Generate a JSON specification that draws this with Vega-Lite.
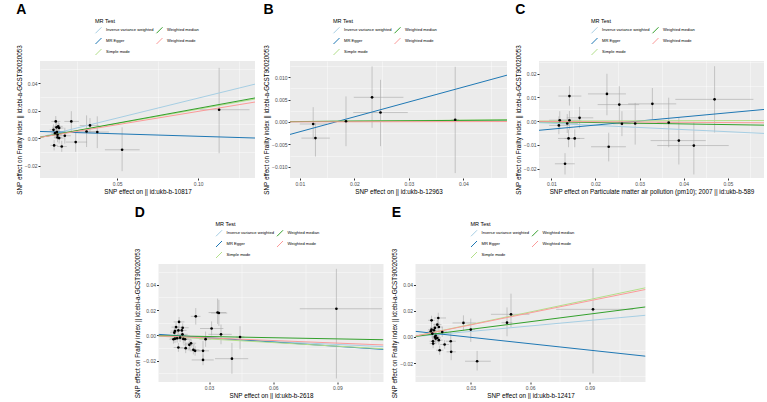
{
  "$schema": "https://vega.github.io/schema/vega-lite/v6.json",
  "padding": {"left": 16, "top": 3, "right": 4, "bottom": 0},
  "background": "white",
  "config": {
    "font": "Liberation Sans",
    "view": {"fill": "#EBEBEB", "stroke": null},
    "axis": {"domain": false, "gridColor": "#FFFFFF", "gridWidth": 0.9, "tickColor": "#333333", "tickSize": 2, "tickCount": 30, "labelFontSize": 5, "labelColor": "#4D4D4D", "titleFontSize": 6.3, "titleFontWeight": "normal", "titleColor": "#000000", "titlePadding": 2, "labelPadding": 1, "labelOverlap": false, "labelFlush": false, "labelBound": false, "labelFont": "Liberation Sans", "titleFont": "Liberation Sans"},
    "legend": {"labelFontSize": 4.1, "titleFontSize": 5.5, "titleFontWeight": "normal", "titleColor": "#000000", "labelColor": "#000000", "symbolType": "M-1,1L1,-1", "symbolStrokeWidth": 1, "symbolSize": 36, "columns": 2, "titleOrient": "top", "rowPadding": 0, "columnPadding": 0, "titlePadding": 2, "labelOffset": 4, "labelFont": "Liberation Sans", "titleFont": "Liberation Sans"},
    "title": {"fontSize": 14, "fontWeight": "bold", "anchor": "start", "frame": "bounds", "font": "Liberation Sans", "offset": 2, "color": "#000000"},
    "concat": {"spacing": 8}
  },
  "datasets": {
    "A_pts": [
      {"x": 0.1129, "y": 0.0206, "xlo": 0.101, "xhi": 0.1316, "ylo": -0.011, "yhi": 0.051},
      {"x": 0.0531, "y": -0.0085, "xlo": 0.0425, "xhi": 0.0639, "ylo": -0.024, "yhi": 0.0078},
      {"x": 0.0378, "y": 0.0044, "xlo": 0.030, "xhi": 0.045, "ylo": -0.0073, "yhi": 0.0158},
      {"x": 0.0312, "y": 0.0048, "xlo": 0.025, "xhi": 0.037, "ylo": -0.0065, "yhi": 0.0165},
      {"x": 0.0333, "y": 0.0092, "xlo": 0.027, "xhi": 0.039, "ylo": 0.004, "yhi": 0.0145},
      {"x": 0.0218, "y": 0.0121, "xlo": 0.0175, "xhi": 0.0265, "ylo": 0.0044, "yhi": 0.0195},
      {"x": 0.0245, "y": -0.0029, "xlo": 0.0185, "xhi": 0.0315, "ylo": -0.010, "yhi": 0.0045},
      {"x": 0.0178, "y": 0.0017, "xlo": 0.0145, "xhi": 0.0215, "ylo": -0.004, "yhi": 0.0075},
      {"x": 0.0159, "y": -0.0061, "xlo": 0.013, "xhi": 0.019, "ylo": -0.010, "yhi": -0.002},
      {"x": 0.0143, "y": 0.0, "xlo": 0.0115, "xhi": 0.017, "ylo": -0.004, "yhi": 0.004},
      {"x": 0.0133, "y": 0.0005, "xlo": 0.011, "xhi": 0.016, "ylo": -0.003, "yhi": 0.004},
      {"x": 0.0112, "y": -0.0053, "xlo": 0.009, "xhi": 0.0135, "ylo": -0.009, "yhi": -0.0015},
      {"x": 0.0122, "y": 0.0121, "xlo": 0.0095, "xhi": 0.015, "ylo": 0.008, "yhi": 0.016},
      {"x": 0.0108, "y": 0.006, "xlo": 0.0085, "xhi": 0.013, "ylo": 0.002, "yhi": 0.010},
      {"x": 0.0127, "y": 0.0078, "xlo": 0.010, "xhi": 0.0155, "ylo": 0.004, "yhi": 0.0115},
      {"x": 0.0137, "y": 0.0085, "xlo": 0.011, "xhi": 0.0165, "ylo": 0.005, "yhi": 0.012},
      {"x": 0.0143, "y": 0.0073, "xlo": 0.0115, "xhi": 0.017, "ylo": 0.0035, "yhi": 0.011},
      {"x": 0.0129, "y": 0.0044, "xlo": 0.0105, "xhi": 0.0155, "ylo": 0.0005, "yhi": 0.0083},
      {"x": 0.0118, "y": 0.0036, "xlo": 0.0095, "xhi": 0.014, "ylo": 0.0, "yhi": 0.0072},
      {"x": 0.0133, "y": 0.0024, "xlo": 0.011, "xhi": 0.016, "ylo": -0.001, "yhi": 0.006}
    ],
    "A_lines": [
      {"method": "Inverse variance weighted", "x": 0.0025, "y": 0.000725},
      {"method": "Inverse variance weighted", "x": 0.135, "y": 0.0392},
      {"method": "MR Egger", "x": 0.0025, "y": 0.00481},
      {"method": "MR Egger", "x": 0.135, "y": 0.00004},
      {"method": "Simple mode", "x": 0.0025, "y": 0.000525},
      {"method": "Simple mode", "x": 0.135, "y": 0.02835},
      {"method": "Weighted median", "x": 0.0025, "y": 0.00054},
      {"method": "Weighted median", "x": 0.135, "y": 0.02916},
      {"method": "Weighted mode", "x": 0.0025, "y": 0.000485},
      {"method": "Weighted mode", "x": 0.135, "y": 0.02619}
    ],
    "B_pts": [
      {"x": 0.01245, "y": -0.00045, "xlo": 0.0100, "xhi": 0.0150, "ylo": -0.0039, "yhi": 0.0033},
      {"x": 0.01287, "y": -0.0036, "xlo": 0.0103, "xhi": 0.0155, "ylo": -0.0077, "yhi": -0.0002},
      {"x": 0.01847, "y": 0.00015, "xlo": 0.0155, "xhi": 0.0215, "ylo": -0.0054, "yhi": 0.0057},
      {"x": 0.02325, "y": 0.0055, "xlo": 0.0199, "xhi": 0.0290, "ylo": -0.0013, "yhi": 0.0124},
      {"x": 0.0248, "y": 0.0021, "xlo": 0.0198, "xhi": 0.0298, "ylo": -0.0054, "yhi": 0.0094},
      {"x": 0.0385, "y": 0.0005, "xlo": 0.0378, "xhi": 0.0392, "ylo": -0.0114, "yhi": 0.0123}
    ],
    "B_lines": [
      {"method": "Inverse variance weighted", "x": 0.0082, "y": 0.0000656},
      {"method": "Inverse variance weighted", "x": 0.048, "y": 0.000384},
      {"method": "MR Egger", "x": 0.0082, "y": -0.00278},
      {"method": "MR Egger", "x": 0.048, "y": 0.01044},
      {"method": "Simple mode", "x": 0.0082, "y": 0.000082},
      {"method": "Simple mode", "x": 0.048, "y": 0.00048},
      {"method": "Weighted median", "x": 0.0082, "y": 0.000074},
      {"method": "Weighted median", "x": 0.048, "y": 0.000432},
      {"method": "Weighted mode", "x": 0.0082, "y": 0.0000164},
      {"method": "Weighted mode", "x": 0.048, "y": 0.000096}
    ],
    "C_pts": [
      {"x": 0.0119, "y": 0.0004, "xlo": 0.0095, "xhi": 0.0145, "ylo": -0.0034, "yhi": 0.0042},
      {"x": 0.0117, "y": -0.0018, "xlo": 0.0095, "xhi": 0.014, "ylo": -0.0055, "yhi": 0.002},
      {"x": 0.0136, "y": -0.001, "xlo": 0.011, "xhi": 0.016, "ylo": -0.005, "yhi": 0.003},
      {"x": 0.0141, "y": 0.0106, "xlo": 0.0116, "xhi": 0.0168, "ylo": 0.0066, "yhi": 0.0148},
      {"x": 0.0141, "y": 0.0004, "xlo": 0.0115, "xhi": 0.0168, "ylo": -0.0035, "yhi": 0.0043},
      {"x": 0.0139, "y": -0.0073, "xlo": 0.0115, "xhi": 0.0165, "ylo": -0.011, "yhi": -0.0035},
      {"x": 0.0153, "y": -0.0073, "xlo": 0.0130, "xhi": 0.0175, "ylo": -0.011, "yhi": -0.0035},
      {"x": 0.0164, "y": 0.0014, "xlo": 0.0135, "xhi": 0.0195, "ylo": -0.003, "yhi": 0.006},
      {"x": 0.0131, "y": -0.018, "xlo": 0.0108, "xhi": 0.0153, "ylo": -0.0225, "yhi": -0.0135},
      {"x": 0.0226, "y": 0.0115, "xlo": 0.0183, "xhi": 0.0269, "ylo": 0.0025, "yhi": 0.0200},
      {"x": 0.0230, "y": -0.0108, "xlo": 0.019, "xhi": 0.0269, "ylo": -0.017, "yhi": -0.0049},
      {"x": 0.0254, "y": 0.0070, "xlo": 0.0205, "xhi": 0.0299, "ylo": -0.0007, "yhi": 0.0148},
      {"x": 0.0260, "y": -0.0011, "xlo": 0.024, "xhi": 0.028, "ylo": -0.0063, "yhi": 0.0042},
      {"x": 0.0290, "y": -0.001, "xlo": 0.0250, "xhi": 0.0329, "ylo": -0.0099, "yhi": 0.0077},
      {"x": 0.0329, "y": 0.0073, "xlo": 0.0274, "xhi": 0.0383, "ylo": 0.0007, "yhi": 0.014},
      {"x": 0.0366, "y": -0.0006, "xlo": 0.034, "xhi": 0.039, "ylo": -0.011, "yhi": 0.0099},
      {"x": 0.0389, "y": -0.0082, "xlo": 0.0325, "xhi": 0.045, "ylo": -0.0183, "yhi": 0.0017},
      {"x": 0.0423, "y": -0.0103, "xlo": 0.0340, "xhi": 0.0502, "ylo": -0.0225, "yhi": -0.0003},
      {"x": 0.0470, "y": 0.0092, "xlo": 0.0381, "xhi": 0.0558, "ylo": -0.0048, "yhi": 0.0232}
    ],
    "C_lines": [
      {"method": "Inverse variance weighted", "x": 0.0072, "y": -0.00064},
      {"method": "Inverse variance weighted", "x": 0.0582, "y": -0.00518},
      {"method": "MR Egger", "x": 0.0072, "y": -0.00386},
      {"method": "MR Egger", "x": 0.0582, "y": 0.00494},
      {"method": "Simple mode", "x": 0.0072, "y": 0.000036},
      {"method": "Simple mode", "x": 0.0582, "y": 0.00029},
      {"method": "Weighted median", "x": 0.0072, "y": -0.00021},
      {"method": "Weighted median", "x": 0.0582, "y": -0.00169},
      {"method": "Weighted mode", "x": 0.0072, "y": -0.0000864},
      {"method": "Weighted mode", "x": 0.0582, "y": -0.000698}
    ],
    "D_pts": [
      {"x": 0.0895, "y": 0.021, "xlo": 0.0724, "xhi": 0.1108, "ylo": -0.034, "yhi": 0.0525},
      {"x": 0.0407, "y": -0.0184, "xlo": 0.0328, "xhi": 0.0483, "ylo": -0.0303, "yhi": -0.0060},
      {"x": 0.0445, "y": -0.0013, "xlo": 0.0425, "xhi": 0.0465, "ylo": -0.0109, "yhi": 0.0072},
      {"x": 0.0356, "y": 0.0008, "xlo": 0.0297, "xhi": 0.0406, "ylo": -0.007, "yhi": 0.0085},
      {"x": 0.0340, "y": 0.018, "xlo": 0.0298, "xhi": 0.0380, "ylo": 0.009, "yhi": 0.029},
      {"x": 0.0346, "y": 0.0176, "xlo": 0.031, "xhi": 0.0385, "ylo": 0.0075, "yhi": 0.028},
      {"x": 0.0312, "y": 0.0054, "xlo": 0.0258, "xhi": 0.0367, "ylo": 0.0, "yhi": 0.011},
      {"x": 0.0238, "y": 0.015, "xlo": 0.0215, "xhi": 0.026, "ylo": 0.0085, "yhi": 0.0215},
      {"x": 0.0284, "y": -0.003, "xlo": 0.0255, "xhi": 0.031, "ylo": -0.009, "yhi": 0.003},
      {"x": 0.0272, "y": -0.0122, "xlo": 0.0245, "xhi": 0.030, "ylo": -0.0176, "yhi": -0.0044},
      {"x": 0.0272, "y": -0.0194, "xlo": 0.0219, "xhi": 0.0322, "ylo": -0.0235, "yhi": -0.015},
      {"x": 0.0235, "y": -0.0122, "xlo": 0.021, "xhi": 0.026, "ylo": -0.016, "yhi": -0.0085},
      {"x": 0.0227, "y": -0.0114, "xlo": 0.020, "xhi": 0.0255, "ylo": -0.015, "yhi": -0.008},
      {"x": 0.0216, "y": -0.0062, "xlo": 0.019, "xhi": 0.024, "ylo": -0.0095, "yhi": -0.003},
      {"x": 0.0208, "y": -0.0075, "xlo": 0.018, "xhi": 0.0235, "ylo": -0.011, "yhi": -0.004},
      {"x": 0.0191, "y": -0.0101, "xlo": 0.0165, "xhi": 0.0215, "ylo": -0.014, "yhi": -0.006},
      {"x": 0.0157, "y": -0.0096, "xlo": 0.0135, "xhi": 0.018, "ylo": -0.013, "yhi": -0.006},
      {"x": 0.0188, "y": -0.0031, "xlo": 0.016, "xhi": 0.0215, "ylo": -0.0065, "yhi": 0.0005},
      {"x": 0.0180, "y": -0.0028, "xlo": 0.0155, "xhi": 0.0205, "ylo": -0.0065, "yhi": 0.001},
      {"x": 0.0176, "y": 0.0008, "xlo": 0.015, "xhi": 0.020, "ylo": -0.0025, "yhi": 0.004},
      {"x": 0.0177, "y": 0.006, "xlo": 0.015, "xhi": 0.0205, "ylo": 0.0025, "yhi": 0.0095},
      {"x": 0.0173, "y": 0.0039, "xlo": 0.015, "xhi": 0.0195, "ylo": 0.0005, "yhi": 0.0073},
      {"x": 0.0157, "y": 0.0039, "xlo": 0.0135, "xhi": 0.018, "ylo": 0.0005, "yhi": 0.0073},
      {"x": 0.0160, "y": 0.0106, "xlo": 0.0135, "xhi": 0.0185, "ylo": 0.0065, "yhi": 0.0145},
      {"x": 0.0141, "y": 0.0034, "xlo": 0.012, "xhi": 0.016, "ylo": 0.0, "yhi": 0.0068},
      {"x": 0.0138, "y": 0.0021, "xlo": 0.0118, "xhi": 0.0158, "ylo": -0.0013, "yhi": 0.0055},
      {"x": 0.0146, "y": 0.0065, "xlo": 0.0125, "xhi": 0.0167, "ylo": 0.003, "yhi": 0.010},
      {"x": 0.0134, "y": -0.0031, "xlo": 0.0115, "xhi": 0.0155, "ylo": -0.0065, "yhi": 0.0003},
      {"x": 0.0141, "y": -0.0026, "xlo": 0.012, "xhi": 0.0162, "ylo": -0.006, "yhi": 0.0008},
      {"x": 0.0151, "y": -0.0023, "xlo": 0.013, "xhi": 0.0172, "ylo": -0.0057, "yhi": 0.0011},
      {"x": 0.0165, "y": -0.0018, "xlo": 0.0142, "xhi": 0.0188, "ylo": -0.0052, "yhi": 0.0016}
    ],
    "D_lines": [
      {"method": "Inverse variance weighted", "x": 0.0064, "y": -0.000512},
      {"method": "Inverse variance weighted", "x": 0.1115, "y": -0.00892},
      {"method": "MR Egger", "x": 0.0064, "y": 0.000777},
      {"method": "MR Egger", "x": 0.1115, "y": -0.0111},
      {"method": "Simple mode", "x": 0.0064, "y": -0.000608},
      {"method": "Simple mode", "x": 0.1115, "y": -0.0106},
      {"method": "Weighted median", "x": 0.0064, "y": -0.000198},
      {"method": "Weighted median", "x": 0.1115, "y": -0.00346},
      {"method": "Weighted mode", "x": 0.0064, "y": -0.000435},
      {"method": "Weighted mode", "x": 0.1115, "y": -0.00758}
    ],
    "E_pts": [
      {"x": 0.0917, "y": 0.0211, "xlo": 0.0731, "xhi": 0.112, "ylo": -0.028, "yhi": 0.0526},
      {"x": 0.0503, "y": 0.0173, "xlo": 0.0402, "xhi": 0.0596, "ylo": 0.0076, "yhi": 0.0331},
      {"x": 0.0483, "y": 0.0109, "xlo": 0.0455, "xhi": 0.051, "ylo": 0.0005, "yhi": 0.0226},
      {"x": 0.0332, "y": -0.0186, "xlo": 0.0271, "xhi": 0.0401, "ylo": -0.0257, "yhi": -0.0107},
      {"x": 0.0300, "y": 0.0056, "xlo": 0.0278, "xhi": 0.0322, "ylo": -0.0038, "yhi": 0.014},
      {"x": 0.0263, "y": 0.0107, "xlo": 0.0208, "xhi": 0.0326, "ylo": 0.0049, "yhi": 0.0165},
      {"x": 0.0199, "y": -0.0033, "xlo": 0.0175, "xhi": 0.0225, "ylo": -0.010, "yhi": 0.0038},
      {"x": 0.0201, "y": -0.0114, "xlo": 0.0178, "xhi": 0.0225, "ylo": -0.0178, "yhi": -0.005},
      {"x": 0.0168, "y": -0.0058, "xlo": 0.0145, "xhi": 0.019, "ylo": -0.009, "yhi": -0.0025},
      {"x": 0.0156, "y": 0.0038, "xlo": 0.0135, "xhi": 0.018, "ylo": 0.0, "yhi": 0.0075},
      {"x": 0.0136, "y": 0.0145, "xlo": 0.0115, "xhi": 0.0175, "ylo": 0.0105, "yhi": 0.0185},
      {"x": 0.0139, "y": 0.0076, "xlo": 0.0118, "xhi": 0.016, "ylo": 0.004, "yhi": 0.0112},
      {"x": 0.0131, "y": 0.0094, "xlo": 0.011, "xhi": 0.0152, "ylo": 0.0058, "yhi": 0.013},
      {"x": 0.0119, "y": 0.0069, "xlo": 0.010, "xhi": 0.0138, "ylo": 0.0035, "yhi": 0.0103},
      {"x": 0.0114, "y": 0.0051, "xlo": 0.0095, "xhi": 0.0133, "ylo": 0.0017, "yhi": 0.0085},
      {"x": 0.0102, "y": 0.0127, "xlo": 0.0085, "xhi": 0.012, "ylo": 0.0092, "yhi": 0.0162},
      {"x": 0.0102, "y": 0.0056, "xlo": 0.0085, "xhi": 0.012, "ylo": 0.0022, "yhi": 0.009},
      {"x": 0.0098, "y": 0.0043, "xlo": 0.0082, "xhi": 0.0115, "ylo": 0.001, "yhi": 0.0076},
      {"x": 0.0106, "y": 0.0025, "xlo": 0.009, "xhi": 0.0123, "ylo": -0.001, "yhi": 0.006},
      {"x": 0.0123, "y": 0.0008, "xlo": 0.0105, "xhi": 0.0142, "ylo": -0.0027, "yhi": 0.0043},
      {"x": 0.0131, "y": -0.0008, "xlo": 0.0112, "xhi": 0.015, "ylo": -0.0043, "yhi": 0.0027},
      {"x": 0.0119, "y": 0.0, "xlo": 0.0101, "xhi": 0.0137, "ylo": -0.0035, "yhi": 0.0035},
      {"x": 0.0139, "y": -0.0025, "xlo": 0.012, "xhi": 0.0158, "ylo": -0.006, "yhi": 0.001},
      {"x": 0.0109, "y": -0.0033, "xlo": 0.0092, "xhi": 0.0126, "ylo": -0.0068, "yhi": 0.0002},
      {"x": 0.0110, "y": -0.0051, "xlo": 0.0093, "xhi": 0.0127, "ylo": -0.0086, "yhi": -0.0016},
      {"x": 0.0143, "y": -0.0102, "xlo": 0.0125, "xhi": 0.0162, "ylo": -0.0137, "yhi": -0.0067},
      {"x": 0.0123, "y": -0.0013, "xlo": 0.0105, "xhi": 0.0141, "ylo": -0.0048, "yhi": 0.0022}
    ],
    "E_lines": [
      {"method": "Inverse variance weighted", "x": 0.0021, "y": 0.000294},
      {"method": "Inverse variance weighted", "x": 0.1182, "y": 0.01655},
      {"method": "MR Egger", "x": 0.0021, "y": 0.00426},
      {"method": "MR Egger", "x": 0.1182, "y": -0.01475},
      {"method": "Simple mode", "x": 0.0021, "y": 0.000668},
      {"method": "Simple mode", "x": 0.1182, "y": 0.03759},
      {"method": "Weighted median", "x": 0.0021, "y": 0.000407},
      {"method": "Weighted median", "x": 0.1182, "y": 0.02293},
      {"method": "Weighted mode", "x": 0.0021, "y": 0.000645},
      {"method": "Weighted mode", "x": 0.1182, "y": 0.03629}
    ]
  },
  "vconcat": [
    {
      "hconcat": [
        {
          "title": "A",
          "width": 215, "height": 117,
          "resolve": {"scale": {"x": "independent", "y": "independent", "color": "independent"}},
          "layer": [
            {"data": {"name": "A_pts"}, "mark": {"type": "point", "opacity": 0},
             "encoding": {
               "x": {"field": "x", "type": "quantitative", "scale": {"domain": [0.0025, 0.135], "nice": false, "zero": false}, "axis": {"orient": "top", "values": [0.025, 0.075, 0.125], "tickCount": 30, "grid": true, "gridWidth": 0.4, "labels": false, "ticks": false, "domain": false, "title": null}},
               "y": {"field": "y", "type": "quantitative", "scale": {"domain": [-0.029, 0.056], "nice": false, "zero": false}, "axis": {"orient": "right", "values": [-0.01, 0.01, 0.03, 0.05], "tickCount": 30, "grid": true, "gridWidth": 0.4, "labels": false, "ticks": false, "domain": false, "title": null}}}},
            {"layer": [
              {"data": {"name": "A_pts"}, "mark": {"type": "rule", "color": "#A8A8A8", "strokeWidth": 0.6, "clip": true},
               "encoding": {
                 "x": {"field": "xlo", "type": "quantitative", "scale": {"domain": [0.0025, 0.135], "nice": false, "zero": false}, "axis": {"values": [0.05, 0.1], "tickCount": 30, "format": ".2f"}, "title": "SNP effect on  || id:ukb-b-10817"},
                 "x2": {"field": "xhi"},
                 "y": {"field": "y", "type": "quantitative", "scale": {"domain": [-0.029, 0.056], "nice": false, "zero": false}, "axis": {"values": [-0.02, 0, 0.02, 0.04], "tickCount": 30, "format": ".2f"}, "title": "SNP effect on Frailty index || id:ebi-a-GCST90020053"}}},
              {"data": {"name": "A_pts"}, "mark": {"type": "rule", "color": "#A8A8A8", "strokeWidth": 0.6, "clip": true},
               "encoding": {
                 "x": {"field": "x", "type": "quantitative", "scale": {"domain": [0.0025, 0.135], "nice": false, "zero": false}, "title": "SNP effect on  || id:ukb-b-10817"},
                 "y": {"field": "ylo", "type": "quantitative", "scale": {"domain": [-0.029, 0.056], "nice": false, "zero": false}, "title": "SNP effect on Frailty index || id:ebi-a-GCST90020053"},
                 "y2": {"field": "yhi"}}},
              {"data": {"name": "A_lines"}, "mark": {"type": "line", "strokeWidth": 1, "clip": true},
               "encoding": {
                 "x": {"field": "x", "type": "quantitative", "scale": {"domain": [0.0025, 0.135], "nice": false, "zero": false}, "title": "SNP effect on  || id:ukb-b-10817"},
                 "y": {"field": "y", "type": "quantitative", "scale": {"domain": [-0.029, 0.056], "nice": false, "zero": false}, "title": "SNP effect on Frailty index || id:ebi-a-GCST90020053"},
                 "color": {"field": "method", "type": "nominal", "scale": {"domain": ["Inverse variance weighted", "MR Egger", "Simple mode", "Weighted median", "Weighted mode"], "range": ["#A6CEE3", "#1F78B4", "#B2DF8A", "#33A02C", "#FB9A99"]}, "legend": {"title": "MR Test", "orient": "none", "legendX": 55, "legendY": -42}}}},
              {"data": {"name": "A_pts"}, "mark": {"type": "point", "filled": true, "color": "#000000", "size": 7, "opacity": 1, "clip": true},
               "encoding": {
                 "x": {"field": "x", "type": "quantitative", "scale": {"domain": [0.0025, 0.135], "nice": false, "zero": false}, "title": "SNP effect on  || id:ukb-b-10817"},
                 "y": {"field": "y", "type": "quantitative", "scale": {"domain": [-0.029, 0.056], "nice": false, "zero": false}, "title": "SNP effect on Frailty index || id:ebi-a-GCST90020053"}}}
            ]}
          ]
        },
        {
          "title": "B",
          "width": 217, "height": 117,
          "resolve": {"scale": {"x": "independent", "y": "independent", "color": "independent"}},
          "layer": [
            {"data": {"name": "B_pts"}, "mark": {"type": "point", "opacity": 0},
             "encoding": {
               "x": {"field": "x", "type": "quantitative", "scale": {"domain": [0.0082, 0.048], "nice": false, "zero": false}, "axis": {"orient": "top", "values": [0.015, 0.025, 0.035, 0.045], "tickCount": 30, "grid": true, "gridWidth": 0.4, "labels": false, "ticks": false, "domain": false, "title": null}},
               "y": {"field": "y", "type": "quantitative", "scale": {"domain": [-0.0125, 0.0136], "nice": false, "zero": false}, "axis": {"orient": "right", "values": [-0.0075, -0.0025, 0.0025, 0.0075, 0.0125], "tickCount": 30, "grid": true, "gridWidth": 0.4, "labels": false, "ticks": false, "domain": false, "title": null}}}},
            {"layer": [
              {"data": {"name": "B_pts"}, "mark": {"type": "rule", "color": "#A8A8A8", "strokeWidth": 0.6, "clip": true},
               "encoding": {
                 "x": {"field": "xlo", "type": "quantitative", "scale": {"domain": [0.0082, 0.048], "nice": false, "zero": false}, "axis": {"values": [0.01, 0.02, 0.03, 0.04], "tickCount": 30, "format": ".2f"}, "title": "SNP effect on  || id:ukb-b-12963"},
                 "x2": {"field": "xhi"},
                 "y": {"field": "y", "type": "quantitative", "scale": {"domain": [-0.0125, 0.0136], "nice": false, "zero": false}, "axis": {"values": [-0.01, -0.005, 0, 0.005, 0.01], "tickCount": 30, "format": ".3f"}, "title": "SNP effect on Frailty index || id:ebi-a-GCST90020053"}}},
              {"data": {"name": "B_pts"}, "mark": {"type": "rule", "color": "#A8A8A8", "strokeWidth": 0.6, "clip": true},
               "encoding": {
                 "x": {"field": "x", "type": "quantitative", "scale": {"domain": [0.0082, 0.048], "nice": false, "zero": false}, "title": "SNP effect on  || id:ukb-b-12963"},
                 "y": {"field": "ylo", "type": "quantitative", "scale": {"domain": [-0.0125, 0.0136], "nice": false, "zero": false}, "title": "SNP effect on Frailty index || id:ebi-a-GCST90020053"},
                 "y2": {"field": "yhi"}}},
              {"data": {"name": "B_lines"}, "mark": {"type": "line", "strokeWidth": 1, "clip": true},
               "encoding": {
                 "x": {"field": "x", "type": "quantitative", "scale": {"domain": [0.0082, 0.048], "nice": false, "zero": false}, "title": "SNP effect on  || id:ukb-b-12963"},
                 "y": {"field": "y", "type": "quantitative", "scale": {"domain": [-0.0125, 0.0136], "nice": false, "zero": false}, "title": "SNP effect on Frailty index || id:ebi-a-GCST90020053"},
                 "color": {"field": "method", "type": "nominal", "scale": {"domain": ["Inverse variance weighted", "MR Egger", "Simple mode", "Weighted median", "Weighted mode"], "range": ["#A6CEE3", "#1F78B4", "#B2DF8A", "#33A02C", "#FB9A99"]}, "legend": {"title": "MR Test", "orient": "none", "legendX": 43, "legendY": -42}}}},
              {"data": {"name": "B_pts"}, "mark": {"type": "point", "filled": true, "color": "#000000", "size": 7, "opacity": 1, "clip": true},
               "encoding": {
                 "x": {"field": "x", "type": "quantitative", "scale": {"domain": [0.0082, 0.048], "nice": false, "zero": false}, "title": "SNP effect on  || id:ukb-b-12963"},
                 "y": {"field": "y", "type": "quantitative", "scale": {"domain": [-0.0125, 0.0136], "nice": false, "zero": false}, "title": "SNP effect on Frailty index || id:ebi-a-GCST90020053"}}}
            ]}
          ]
        },
        {
          "title": "C",
          "width": 225, "height": 117,
          "resolve": {"scale": {"x": "independent", "y": "independent", "color": "independent"}},
          "layer": [
            {"data": {"name": "C_pts"}, "mark": {"type": "point", "opacity": 0},
             "encoding": {
               "x": {"field": "x", "type": "quantitative", "scale": {"domain": [0.0072, 0.0582], "nice": false, "zero": false}, "axis": {"orient": "top", "values": [0.015, 0.025, 0.035, 0.045, 0.055], "tickCount": 30, "grid": true, "gridWidth": 0.4, "labels": false, "ticks": false, "domain": false, "title": null}},
               "y": {"field": "y", "type": "quantitative", "scale": {"domain": [-0.024, 0.0254], "nice": false, "zero": false}, "axis": {"orient": "right", "values": [-0.015, -0.005, 0.005, 0.015, 0.025], "tickCount": 30, "grid": true, "gridWidth": 0.4, "labels": false, "ticks": false, "domain": false, "title": null}}}},
            {"layer": [
              {"data": {"name": "C_pts"}, "mark": {"type": "rule", "color": "#A8A8A8", "strokeWidth": 0.6, "clip": true},
               "encoding": {
                 "x": {"field": "xlo", "type": "quantitative", "scale": {"domain": [0.0072, 0.0582], "nice": false, "zero": false}, "axis": {"values": [0.01, 0.02, 0.03, 0.04, 0.05], "tickCount": 30, "format": ".2f"}, "title": "SNP effect on Particulate matter air pollution (pm10); 2007 || id:ukb-b-589"},
                 "x2": {"field": "xhi"},
                 "y": {"field": "y", "type": "quantitative", "scale": {"domain": [-0.024, 0.0254], "nice": false, "zero": false}, "axis": {"values": [-0.02, -0.01, 0, 0.01, 0.02], "tickCount": 30, "format": ".2f"}, "title": "SNP effect on Frailty index || id:ebi-a-GCST90020053"}}},
              {"data": {"name": "C_pts"}, "mark": {"type": "rule", "color": "#A8A8A8", "strokeWidth": 0.6, "clip": true},
               "encoding": {
                 "x": {"field": "x", "type": "quantitative", "scale": {"domain": [0.0072, 0.0582], "nice": false, "zero": false}, "title": "SNP effect on Particulate matter air pollution (pm10); 2007 || id:ukb-b-589"},
                 "y": {"field": "ylo", "type": "quantitative", "scale": {"domain": [-0.024, 0.0254], "nice": false, "zero": false}, "title": "SNP effect on Frailty index || id:ebi-a-GCST90020053"},
                 "y2": {"field": "yhi"}}},
              {"data": {"name": "C_lines"}, "mark": {"type": "line", "strokeWidth": 1, "clip": true},
               "encoding": {
                 "x": {"field": "x", "type": "quantitative", "scale": {"domain": [0.0072, 0.0582], "nice": false, "zero": false}, "title": "SNP effect on Particulate matter air pollution (pm10); 2007 || id:ukb-b-589"},
                 "y": {"field": "y", "type": "quantitative", "scale": {"domain": [-0.024, 0.0254], "nice": false, "zero": false}, "title": "SNP effect on Frailty index || id:ebi-a-GCST90020053"},
                 "color": {"field": "method", "type": "nominal", "scale": {"domain": ["Inverse variance weighted", "MR Egger", "Simple mode", "Weighted median", "Weighted mode"], "range": ["#A6CEE3", "#1F78B4", "#B2DF8A", "#33A02C", "#FB9A99"]}, "legend": {"title": "MR Test", "orient": "none", "legendX": 52, "legendY": -42}}}},
              {"data": {"name": "C_pts"}, "mark": {"type": "point", "filled": true, "color": "#000000", "size": 7, "opacity": 1, "clip": true},
               "encoding": {
                 "x": {"field": "x", "type": "quantitative", "scale": {"domain": [0.0072, 0.0582], "nice": false, "zero": false}, "title": "SNP effect on Particulate matter air pollution (pm10); 2007 || id:ukb-b-589"},
                 "y": {"field": "y", "type": "quantitative", "scale": {"domain": [-0.024, 0.0254], "nice": false, "zero": false}, "title": "SNP effect on Frailty index || id:ebi-a-GCST90020053"}}}
            ]}
          ]
        }
      ]
    },
    {
      "hconcat": [
        {
          "title": "D",
          "width": 225, "height": 118,
          "resolve": {"scale": {"x": "independent", "y": "independent", "color": "independent"}},
          "layer": [
            {"data": {"name": "D_pts"}, "mark": {"type": "point", "opacity": 0},
             "encoding": {
               "x": {"field": "x", "type": "quantitative", "scale": {"domain": [0.0064, 0.1115], "nice": false, "zero": false}, "axis": {"orient": "top", "values": [0.015, 0.045, 0.075, 0.105], "tickCount": 30, "grid": true, "gridWidth": 0.4, "labels": false, "ticks": false, "domain": false, "title": null}},
               "y": {"field": "y", "type": "quantitative", "scale": {"domain": [-0.0368, 0.0563], "nice": false, "zero": false}, "axis": {"orient": "right", "values": [-0.03, -0.01, 0.01, 0.03, 0.05], "tickCount": 30, "grid": true, "gridWidth": 0.4, "labels": false, "ticks": false, "domain": false, "title": null}}}},
            {"layer": [
              {"data": {"name": "D_pts"}, "mark": {"type": "rule", "color": "#A8A8A8", "strokeWidth": 0.6, "clip": true},
               "encoding": {
                 "x": {"field": "xlo", "type": "quantitative", "scale": {"domain": [0.0064, 0.1115], "nice": false, "zero": false}, "axis": {"values": [0.03, 0.06, 0.09], "tickCount": 30, "format": ".2f"}, "title": "SNP effect on  || id:ukb-b-2618"},
                 "x2": {"field": "xhi"},
                 "y": {"field": "y", "type": "quantitative", "scale": {"domain": [-0.0368, 0.0563], "nice": false, "zero": false}, "axis": {"values": [-0.02, 0, 0.02, 0.04], "tickCount": 30, "format": ".2f"}, "title": "SNP effect on Frailty index || id:ebi-a-GCST90020053"}}},
              {"data": {"name": "D_pts"}, "mark": {"type": "rule", "color": "#A8A8A8", "strokeWidth": 0.6, "clip": true},
               "encoding": {
                 "x": {"field": "x", "type": "quantitative", "scale": {"domain": [0.0064, 0.1115], "nice": false, "zero": false}, "title": "SNP effect on  || id:ukb-b-2618"},
                 "y": {"field": "ylo", "type": "quantitative", "scale": {"domain": [-0.0368, 0.0563], "nice": false, "zero": false}, "title": "SNP effect on Frailty index || id:ebi-a-GCST90020053"},
                 "y2": {"field": "yhi"}}},
              {"data": {"name": "D_lines"}, "mark": {"type": "line", "strokeWidth": 1, "clip": true},
               "encoding": {
                 "x": {"field": "x", "type": "quantitative", "scale": {"domain": [0.0064, 0.1115], "nice": false, "zero": false}, "title": "SNP effect on  || id:ukb-b-2618"},
                 "y": {"field": "y", "type": "quantitative", "scale": {"domain": [-0.0368, 0.0563], "nice": false, "zero": false}, "title": "SNP effect on Frailty index || id:ebi-a-GCST90020053"},
                 "color": {"field": "method", "type": "nominal", "scale": {"domain": ["Inverse variance weighted", "MR Egger", "Simple mode", "Weighted median", "Weighted mode"], "range": ["#A6CEE3", "#1F78B4", "#B2DF8A", "#33A02C", "#FB9A99"]}, "legend": {"title": "MR Test", "orient": "none", "legendX": 57, "legendY": -42}}}},
              {"data": {"name": "D_pts"}, "mark": {"type": "point", "filled": true, "color": "#000000", "size": 7, "opacity": 1, "clip": true},
               "encoding": {
                 "x": {"field": "x", "type": "quantitative", "scale": {"domain": [0.0064, 0.1115], "nice": false, "zero": false}, "title": "SNP effect on  || id:ukb-b-2618"},
                 "y": {"field": "y", "type": "quantitative", "scale": {"domain": [-0.0368, 0.0563], "nice": false, "zero": false}, "title": "SNP effect on Frailty index || id:ebi-a-GCST90020053"}}}
            ]}
          ]
        },
        {
          "title": "E",
          "width": 230, "height": 118,
          "resolve": {"scale": {"x": "independent", "y": "independent", "color": "independent"}},
          "layer": [
            {"data": {"name": "E_pts"}, "mark": {"type": "point", "opacity": 0},
             "encoding": {
               "x": {"field": "x", "type": "quantitative", "scale": {"domain": [0.0021, 0.1182], "nice": false, "zero": false}, "axis": {"orient": "top", "values": [0.015, 0.045, 0.075, 0.105], "tickCount": 30, "grid": true, "gridWidth": 0.4, "labels": false, "ticks": false, "domain": false, "title": null}},
               "y": {"field": "y", "type": "quantitative", "scale": {"domain": [-0.0345, 0.0558], "nice": false, "zero": false}, "axis": {"orient": "right", "values": [-0.03, -0.01, 0.01, 0.03, 0.05], "tickCount": 30, "grid": true, "gridWidth": 0.4, "labels": false, "ticks": false, "domain": false, "title": null}}}},
            {"layer": [
              {"data": {"name": "E_pts"}, "mark": {"type": "rule", "color": "#A8A8A8", "strokeWidth": 0.6, "clip": true},
               "encoding": {
                 "x": {"field": "xlo", "type": "quantitative", "scale": {"domain": [0.0021, 0.1182], "nice": false, "zero": false}, "axis": {"values": [0.03, 0.06, 0.09], "tickCount": 30, "format": ".2f"}, "title": "SNP effect on  || id:ukb-b-12417"},
                 "x2": {"field": "xhi"},
                 "y": {"field": "y", "type": "quantitative", "scale": {"domain": [-0.0345, 0.0558], "nice": false, "zero": false}, "axis": {"values": [-0.02, 0, 0.02, 0.04], "tickCount": 30, "format": ".2f"}, "title": "SNP effect on Frailty index || id:ebi-a-GCST90020053"}}},
              {"data": {"name": "E_pts"}, "mark": {"type": "rule", "color": "#A8A8A8", "strokeWidth": 0.6, "clip": true},
               "encoding": {
                 "x": {"field": "x", "type": "quantitative", "scale": {"domain": [0.0021, 0.1182], "nice": false, "zero": false}, "title": "SNP effect on  || id:ukb-b-12417"},
                 "y": {"field": "ylo", "type": "quantitative", "scale": {"domain": [-0.0345, 0.0558], "nice": false, "zero": false}, "title": "SNP effect on Frailty index || id:ebi-a-GCST90020053"},
                 "y2": {"field": "yhi"}}},
              {"data": {"name": "E_lines"}, "mark": {"type": "line", "strokeWidth": 1, "clip": true},
               "encoding": {
                 "x": {"field": "x", "type": "quantitative", "scale": {"domain": [0.0021, 0.1182], "nice": false, "zero": false}, "title": "SNP effect on  || id:ukb-b-12417"},
                 "y": {"field": "y", "type": "quantitative", "scale": {"domain": [-0.0345, 0.0558], "nice": false, "zero": false}, "title": "SNP effect on Frailty index || id:ebi-a-GCST90020053"},
                 "color": {"field": "method", "type": "nominal", "scale": {"domain": ["Inverse variance weighted", "MR Egger", "Simple mode", "Weighted median", "Weighted mode"], "range": ["#A6CEE3", "#1F78B4", "#B2DF8A", "#33A02C", "#FB9A99"]}, "legend": {"title": "MR Test", "orient": "none", "legendX": 55, "legendY": -42}}}},
              {"data": {"name": "E_pts"}, "mark": {"type": "point", "filled": true, "color": "#000000", "size": 7, "opacity": 1, "clip": true},
               "encoding": {
                 "x": {"field": "x", "type": "quantitative", "scale": {"domain": [0.0021, 0.1182], "nice": false, "zero": false}, "title": "SNP effect on  || id:ukb-b-12417"},
                 "y": {"field": "y", "type": "quantitative", "scale": {"domain": [-0.0345, 0.0558], "nice": false, "zero": false}, "title": "SNP effect on Frailty index || id:ebi-a-GCST90020053"}}}
            ]}
          ]
        }
      ]
    }
  ],
  "spacing": 11,
  "center": true
}
